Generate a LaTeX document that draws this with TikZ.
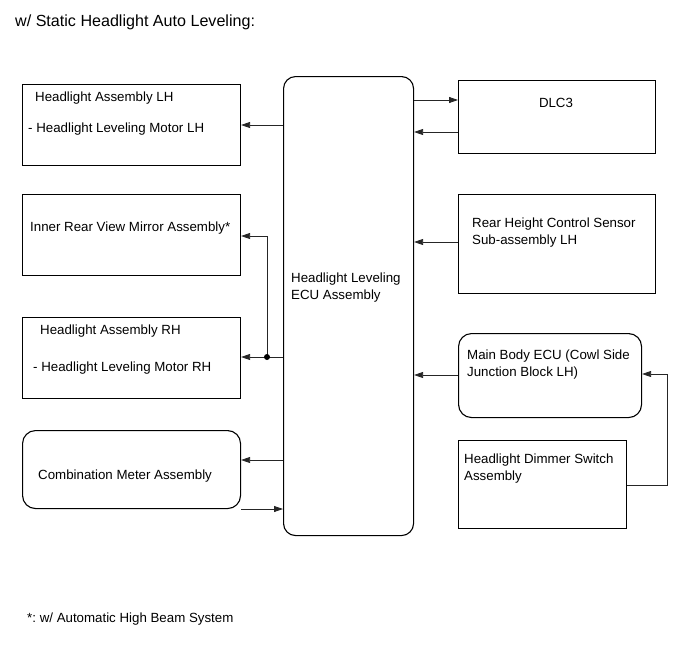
\documentclass[tikz,border=0pt]{standalone}
\usepackage{fontspec}
\setmainfont{Liberation Sans}
\usetikzlibrary{arrows.meta}
\frenchspacing
\begin{document}
\begin{tikzpicture}[x=1pt,y=-1pt,
  box/.style={draw=black,line width=1.1pt,anchor=north west,inner sep=0pt},
  rbox/.style={box,rounded corners=13pt},
  txt/.style={anchor=base west,inner sep=0pt,font=\fontsize{13.3}{17}\selectfont},
  conn/.style={draw=black!85,line width=0.8pt,-{Triangle[length=9pt,width=6pt]}},
  plain/.style={draw=black!85,line width=0.8pt}]
\useasboundingbox (0,0) rectangle (689,659);
% title
\node[anchor=base west,inner sep=0pt,font=\fontsize{16.1}{19}\selectfont] (title) at (15,26) {w/ Static Headlight Auto Leveling:};
% boxes
\node[box,minimum width=218pt,minimum height=81pt] (lh) at (22,84) {};
\node[box,minimum width=218pt,minimum height=81pt] (mir) at (22,194) {};
\node[box,minimum width=218pt,minimum height=81pt] (rh) at (22,317) {};
\node[rbox,minimum width=218pt,minimum height=78pt] (cm) at (22,430) {};
\node[box,rounded corners=12pt,minimum width=130pt,minimum height=459pt] (ecu) at (283,76) {};
\node[box,minimum width=197pt,minimum height=73pt] (dlc) at (458,80) {};
\node[box,minimum width=197pt,minimum height=99pt] (rhs) at (458,194) {};
\node[rbox,minimum width=183pt,minimum height=84pt] (mb) at (458,333) {};
\node[box,minimum width=168pt,minimum height=88pt] (dim) at (458,440) {};
% texts
\node[txt] (t1) at (35,101) {Headlight Assembly LH};
\node[txt] (t2) at (28,132) {- Headlight Leveling Motor LH};
\node[txt] (t3) at (30,231) {Inner Rear View Mirror Assembly*};
\node[txt] (t4) at (40,334) {Headlight Assembly RH};
\node[txt] (t5) at (33,371) {- Headlight Leveling Motor RH};
\node[txt] (t6) at (38,479) {Combination Meter Assembly};
\node[txt,align=left,anchor=north west] (t7) at (291,273) {Headlight Leveling\\ECU Assembly};
\node[txt,anchor=base] (t8) at (556,107) {DLC3};
\node[txt,align=left,anchor=north west] (t9) at (472,218) {Rear Height Control Sensor\\Sub-assembly LH};
\node[txt,align=left,anchor=north west] (t10) at (467,350) {Main Body ECU (Cowl Side\\Junction Block LH)};
\node[txt,align=left,anchor=north west] (t11) at (464,454) {Headlight Dimmer Switch\\Assembly};
\node[anchor=base west,inner sep=0pt,font=\fontsize{13.3}{17}\selectfont] (foot) at (27,622) {*: w/ Automatic High Beam System};
% connectors
\draw[conn] (ecu.west |- 0,125) -- (lh.east |- 0,125);
\draw[conn] (ecu.east |- 0,100) -- (dlc.west |- 0,100);
\draw[conn] (dlc.west |- 0,132) -- (ecu.east |- 0,132);
\draw[conn] (rhs.west |- 0,242) -- (ecu.east |- 0,242);
\draw[conn] (mb.west |- 0,375) -- (ecu.east |- 0,375);
\coordinate (j) at (267,357);
\draw[conn] (ecu.west |- 0,357) -- (rh.east |- 0,357);
\draw[conn] (j) -- (267,236) -- (mir.east |- 0,236);
\fill (j) circle (3pt);
\draw[conn] (ecu.west |- 0,460) -- (cm.east |- 0,460);
\draw[conn] (cm.east |- 0,509) -- (ecu.west |- 0,509);
\draw[conn] (dim.east |- 0,485) -- (667,485) -- (667,374) -- (mb.east |- 0,374);
\end{tikzpicture}
\end{document}
